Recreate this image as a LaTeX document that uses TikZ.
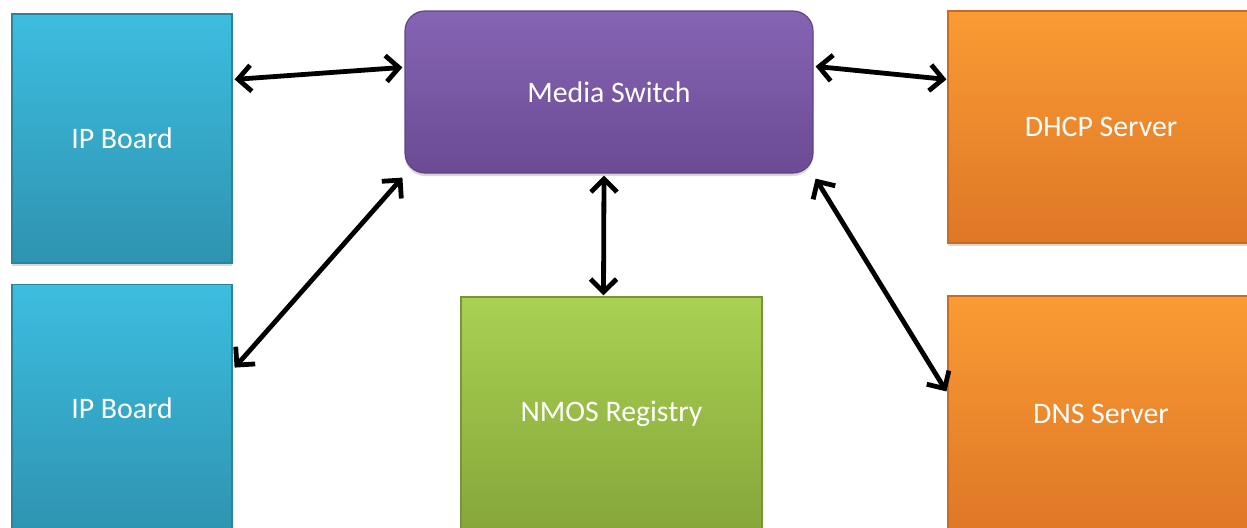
\documentclass[tikz,border=0pt]{standalone}
\usepackage{fontspec}
\setmainfont{Carlito}
\usetikzlibrary{
  positioning,
  calc,
  arrows.meta,
  shadows
  }
\definecolor{ipTop}{HTML}{3DBDE0}
\definecolor{ipBot}{HTML}{2E93B0}
\definecolor{swTop}{HTML}{8664B4}
\definecolor{swBot}{HTML}{6B4B93}
\definecolor{regTop}{HTML}{A9D152}
\definecolor{regBot}{HTML}{86A63A}
\definecolor{srvTop}{HTML}{FA9B33}
\definecolor{srvBot}{HTML}{DE7727}
\tikzset{
  >={Straight Barb[length=6.5pt,width=13pt,line width=2.4pt]},
  link/.style={line width=2.4pt, <->},
  block/.style={rectangle, text=white, font=\fontsize{14.9}{17}\selectfont,
    inner sep=0pt, drop shadow={shadow xshift=0pt, shadow yshift=-1.5pt, opacity=0.3}},
  ipbox/.style={block, top color=ipTop, bottom color=ipBot, draw=ipBot!90!black, line width=0.6pt,
    minimum width=110pt, minimum height=124.5pt},
  switchbox/.style={block, top color=swTop, bottom color=swBot, draw=swBot!90!black, line width=0.6pt,
    rounded corners=10pt, minimum width=204pt, minimum height=81pt},
  regbox/.style={block, top color=regTop, bottom color=regBot, draw=regBot!90!black, line width=0.6pt,
    minimum width=150.5pt, minimum height=117pt},
  serverbox/.style={block, top color=srvTop, bottom color=srvBot, draw=srvBot!90!black, line width=0.6pt,
    minimum width=153pt},
}

\begin{document}
\begin{tikzpicture}[x=0.5pt, y=-0.5pt]
  \useasboundingbox (0,0) rectangle (1247,527);
% =========================================================
% (A) boxes
% =========================================================
  \node[ipbox] (ipboard1) at (122,138.5) {IP Board};
  \node[ipbox, below=10pt of ipboard1] (ipboard2) {IP Board};
  \node[switchbox] (switch) at (609,92) {Media Switch};
  \node[regbox] (nmos) at (611.5,414) {NMOS Registry};
  \node[serverbox, minimum height=116pt] (dhcp) at (1101,127) {DHCP Server};
  \node[serverbox, minimum height=118pt] (dns) at (1101,414) {DNS Server};
% =========================================================
% (B) links to the switch
% =========================================================
  \draw[link] ($(ipboard1.north east)+(2,66)$) -- ($(switch.north west)+(-2,57)$);
  \draw[link] ($(ipboard2.north east)+(2,84)$) -- ($(switch.south west)+(-2,4)$);
  \draw[link] ($(switch.south)+(-5,2)$) -- ($(nmos.north)+(-8,-1)$);
  \draw[link] ($(switch.north east)+(2,56)$) -- ($(dhcp.north west)+(-1,69)$);
  \draw[link] ($(switch.south east)+(2,5)$) -- ($(dns.north west)+(-1,96)$);
\end{tikzpicture}
\end{document}
